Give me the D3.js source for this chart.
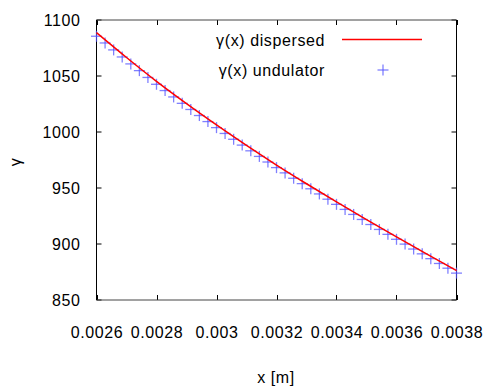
<!DOCTYPE html>
<html>
<head>
<meta charset="utf-8">
<script src="https://cdn.jsdelivr.net/npm/d3@7"></script>
<style>
  body { margin: 0; background: #fff; }
  text { font-family: "Liberation Sans", Arial, sans-serif; font-size: 16px; letter-spacing: 0.6px; fill: #000; }
</style>
</head>
<body>
<div id="visHolder"></div>
<script>
// gamma(x) from dispersion, sampled every 0.1 mm
const dispersedX = [0.0026, 0.0027, 0.0028, 0.0029, 0.0030, 0.0031, 0.0032,
                    0.0033, 0.0034, 0.0035, 0.0036, 0.0037, 0.0038];
const dispersedGamma = [1088.7, 1066.5, 1045.2, 1025.3, 1006.3, 988.0, 970.5,
                        953.8, 937.6, 921.8, 906.3, 891.1, 876.2];

// gamma(x) in the undulator (crosses)
const undulatorX = [0.0026, 0.0026286, 0.0026571, 0.0026857, 0.0027143, 0.0027429, 0.0027714,
                    0.0028, 0.0028286, 0.0028571, 0.0028857, 0.0029143, 0.0029429, 0.0029714,
                    0.003, 0.0030286, 0.0030571, 0.0030857, 0.0031143, 0.0031429, 0.0031714,
                    0.0032, 0.0032286, 0.0032571, 0.0032857, 0.0033143, 0.0033429, 0.0033714,
                    0.0034, 0.0034286, 0.0034571, 0.0034857, 0.0035143, 0.0035429, 0.0035714,
                    0.0036, 0.0036286, 0.0036571, 0.0036857, 0.0037143, 0.0037429, 0.0037714,
                    0.0038];
const undulatorGamma = [1085.5, 1079.5, 1073.3, 1067.0, 1060.8, 1054.8, 1048.7,
                        1042.6, 1037.0, 1031.3, 1025.6, 1020.1, 1014.7, 1009.3,
                        1003.9, 998.7, 993.5, 988.3, 983.2, 978.2, 973.2,
                        968.2, 963.5, 958.7, 953.9, 949.3, 944.7, 940.0,
                        935.4, 930.9, 926.4, 921.9, 917.4, 913.0, 908.6,
                        904.2, 899.9, 895.5, 891.2, 886.9, 882.6, 878.4,
                        874.0];

const xTicks = [0.0026, 0.0028, 0.003, 0.0032, 0.0034, 0.0036, 0.0038];
const xTickLabels = ["0.0026", "0.0028", "0.003", "0.0032", "0.0034", "0.0036", "0.0038"];
const yTicks = [850, 900, 950, 1000, 1050, 1100];

let width = 488,
    height = 386,
    plotLeft = 96.5, plotRight = 456.5, plotTop = 20, plotBottom = 300,
    tickLen = 5;

let svg = d3.select("#visHolder")
    .append("svg")
    .attr("width", width)
    .attr("height", height);

let xScale = d3.scaleLinear().domain([0.0026, 0.0038]).range([plotLeft, plotRight]);
let yScale = d3.scaleLinear().domain([850, 1100]).range([plotBottom, plotTop]);

// axes: labels via d3 axes, tick marks drawn inward on all sides
let xAxis = d3.axisBottom(xScale).tickValues(xTicks)
    .tickFormat((d, i) => xTickLabels[i]).tickSize(0).tickPadding(27);
svg.append("g")
    .attr("transform", `translate(0, ${plotBottom})`)
    .call(xAxis)
    .call(g => g.select(".domain").remove())
    .selectAll("text")
    .attr("fill", "#000")
    .style("font-size", "16px");

let yAxis = d3.axisLeft(yScale).tickValues(yTicks).tickFormat(d3.format("d"))
    .tickSize(0).tickPadding(16);
svg.append("g")
    .attr("transform", `translate(${plotLeft}, 0)`)
    .call(yAxis)
    .call(g => g.select(".domain").remove())
    .selectAll("text")
    .attr("fill", "#000")
    .style("font-size", "16px");

let ticks = svg.append("g").attr("stroke", "#000").attr("stroke-width", 1);
xTicks.forEach(t => {
    let x = Math.round(xScale(t)) + 0.5;
    ticks.append("line").attr("x1", x).attr("x2", x).attr("y1", plotBottom).attr("y2", plotBottom - tickLen);
    ticks.append("line").attr("x1", x).attr("x2", x).attr("y1", plotTop).attr("y2", plotTop + tickLen);
});
yTicks.forEach(t => {
    let y = yScale(t);
    ticks.append("line").attr("x1", plotLeft).attr("x2", plotLeft + tickLen).attr("y1", y).attr("y2", y);
    ticks.append("line").attr("x1", plotRight).attr("x2", plotRight - tickLen).attr("y1", y).attr("y2", y);
});

// frame
svg.append("line").attr("x1", plotLeft).attr("x2", plotRight).attr("y1", plotTop).attr("y2", plotTop)
    .attr("stroke", "#444").attr("stroke-width", 1);
svg.append("line").attr("x1", plotLeft).attr("x2", plotRight).attr("y1", plotBottom).attr("y2", plotBottom)
    .attr("stroke", "#444").attr("stroke-width", 1);
svg.append("line").attr("x1", plotLeft).attr("x2", plotLeft).attr("y1", plotTop).attr("y2", plotBottom)
    .attr("stroke", "#000").attr("stroke-width", 1);
svg.append("line").attr("x1", plotRight).attr("x2", plotRight).attr("y1", plotTop).attr("y2", plotBottom)
    .attr("stroke", "#000").attr("stroke-width", 1);

// undulator crosses
let cross = (g, cx, cy) => {
    g.append("line").attr("x1", cx - 5.5).attr("x2", cx + 5.5).attr("y1", cy).attr("y2", cy);
    g.append("line").attr("x1", cx).attr("x2", cx).attr("y1", cy - 5.5).attr("y2", cy + 5.5);
};
let crosses = svg.append("g")
    .attr("stroke", "#5555ff")
    .attr("stroke-width", 1.3)
    .attr("stroke-opacity", 0.75);
undulatorX.forEach((x, i) => cross(crosses, xScale(x), yScale(undulatorGamma[i])));

// dispersed line
let line = d3.line()
    .x((d, i) => xScale(dispersedX[i]))
    .y(d => yScale(d))
    .curve(d3.curveMonotoneX);
svg.append("path")
    .datum(dispersedGamma)
    .attr("d", line)
    .attr("fill", "none")
    .attr("stroke", "#ff0000")
    .attr("stroke-width", 1.5);

// legend
svg.append("text").attr("x", 325).attr("y", 46).attr("text-anchor", "end").text("γ(x) dispersed");
svg.append("line").attr("x1", 342).attr("x2", 422).attr("y1", 39.5).attr("y2", 39.5)
    .attr("stroke", "#ff0000").attr("stroke-width", 1.5);
svg.append("text").attr("x", 325).attr("y", 76).attr("text-anchor", "end").text("γ(x) undulator");
let legendCross = svg.append("g").attr("stroke", "#5555ff").attr("stroke-width", 1.3).attr("stroke-opacity", 0.75);
cross(legendCross, 383, 70);

// axis titles
svg.append("text").attr("x", 276).attr("y", 383).attr("text-anchor", "middle").text("x [m]");
svg.append("text")
    .attr("transform", "translate(21, 162) rotate(-90)")
    .attr("text-anchor", "middle")
    .text("γ");
</script>
</body>
</html>
